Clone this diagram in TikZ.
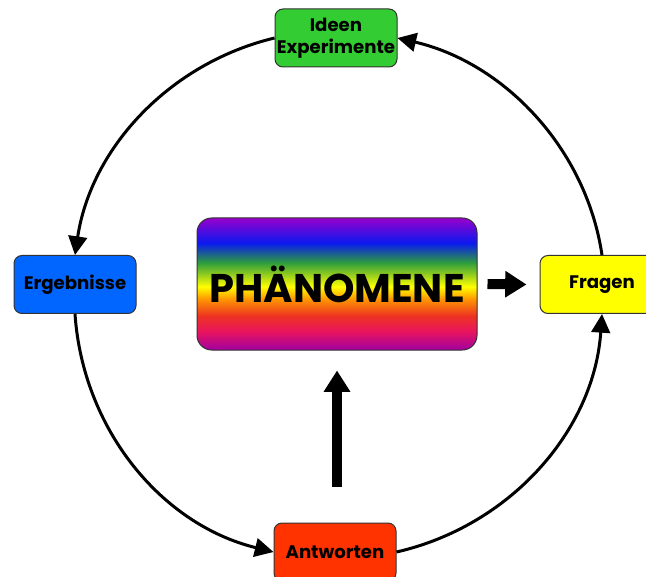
\documentclass[tikz,border=0pt]{standalone}
\usepackage{fontspec}
\setmainfont{Poppins}
\usetikzlibrary{arrows.meta,calc}

\pgfdeclareverticalshading{rainbow}{100bp}{rgb(0bp)=(0.63,0,0.63); rgb(25bp)=(0.63,0,0.63); rgb(32bp)=(0.91,0.08,0.37); rgb(38bp)=(0.93,0.2,0.13); rgb(44.5bp)=(1,0.6,0); rgb(49bp)=(1,1,0); rgb(58bp)=(0.18,0.62,0.23); rgb(65.5bp)=(0.04,0.1,0.94); rgb(75bp)=(0.6,0,0.8); rgb(100bp)=(0.6,0,0.8)}

\tikzset{every picture/.style={line width=0.75pt}}

\begin{document}
\begin{tikzpicture}[x=0.75pt,y=0.75pt,yscale=-1,xscale=1,
  stepbox/.style={draw={rgb, 255:red, 51; green, 51; blue, 51}, line width=0.75pt, rounded corners=6pt, minimum width=91.5pt, minimum height=43.5pt, inner sep=0pt, align=center, font=\bfseries\fontsize{13.6}{16.5}\selectfont},
  cycarrow/.style={line width=2.25pt, -{Triangle[width=14pt,length=14pt]}},
  fatarrow/.style={line width=7.5pt, -{Triangle[width=19pt,length=16pt]}}]

\useasboundingbox (0,0) rectangle (646,577);

% Text Node
\node [stepbox, fill={rgb, 255:red, 51; green, 204; blue, 51}] (ideen) at (336,38) {Ideen\\Experimente};
% Text Node
\node [stepbox, fill={rgb, 255:red, 0; green, 102; blue, 255}] (ergeb) at (75,284.5) {Ergebnisse};
% Text Node
\node [stepbox, fill={rgb, 255:red, 255; green, 255; blue, 0}, minimum width=93pt] (fragen) at (602,284.5) {Fragen};
% Text Node
\node [stepbox, fill={rgb, 255:red, 255; green, 51; blue, 0}] (antw) at (335,552) {Antworten};
% Text Node
\node [draw={rgb, 255:red, 51; green, 51; blue, 51}, line width=0.75pt, rounded corners=11pt, shading=rainbow, minimum width=210pt, minimum height=99pt, font=\bfseries\fontsize{30}{36}\selectfont] (phaen) at (337,284) {PHÄNOMENE};

%Curve Lines
\draw [cycarrow] (ideen.west) to [out=166.5, in=278.5, distance=81pt] (ergeb.north);
\draw [cycarrow] (ergeb.south) to [out=86.1, in=193.75, distance=86.6pt] (antw.west);
\draw [cycarrow] (antw.east) to [out=-12.9, in=93.9, distance=87.6pt] (fragen.south);
\draw [cycarrow] (fragen.north) to [out=-98.5, in=13.1, distance=81.5pt] (ideen.east);

%Straight Lines
\coordinate (upfoot) at (337,487);
\draw [fatarrow] ($(phaen.east)+(10,0)$) -- ($(fragen.west)+(-13,0)$);
\draw [fatarrow] (upfoot) -- ($(phaen.south)+(0,20)$);

\end{tikzpicture}
\end{document}
